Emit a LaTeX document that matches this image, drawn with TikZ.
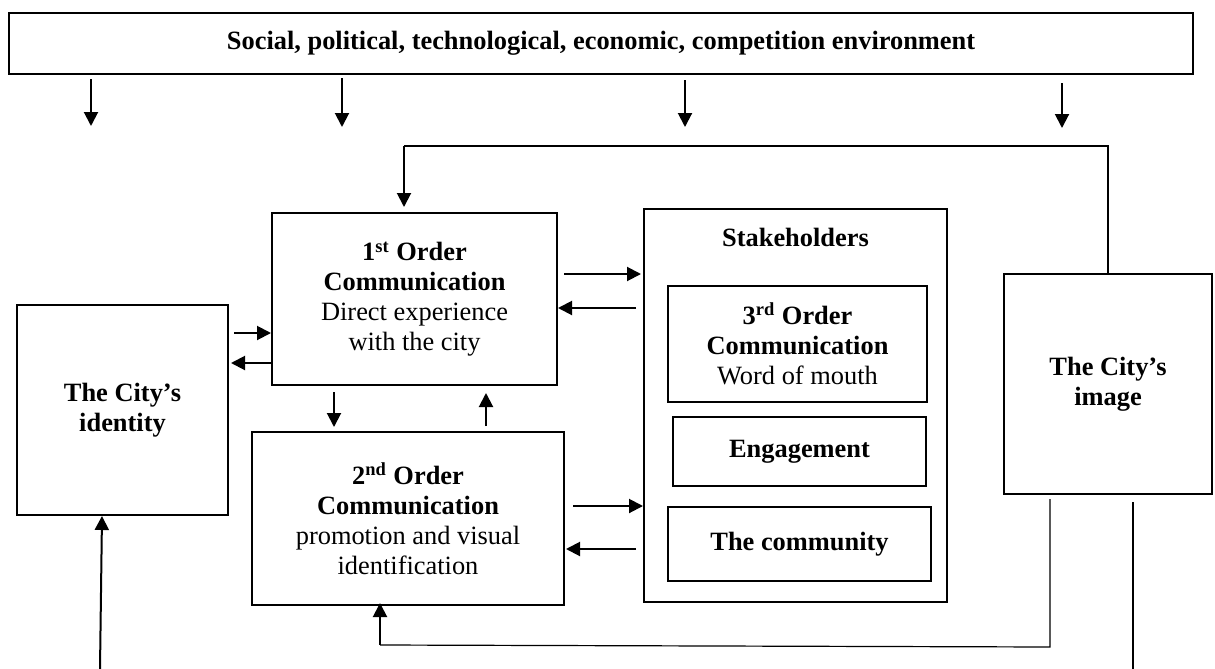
\documentclass[tikz,border=0pt]{standalone}
\usepackage{fontspec}
\setmainfont{Liberation Serif}
\usetikzlibrary{arrows.meta}
\begin{document}
\begin{tikzpicture}[x=0.5pt,y=-0.5pt,
  box/.style={draw, line width=1pt, inner sep=0pt, align=center,
    font=\fontsize{13.2}{15}\selectfont},
  lbl/.style={inner sep=0pt, align=center, font=\fontsize{13.2}{15}\selectfont},
  arr/.style={line width=1pt, -{Triangle[length=7pt,width=7pt]}},
  thin/.style={line width=0.6pt},
  thick/.style={line width=1pt}]
\useasboundingbox (0,0) rectangle (1215,669);

% environment banner
\node[box, minimum width=592pt, minimum height=30.5pt] (env) at (601,43.5)
  {\bfseries Social, political, technological, economic, competition environment};

% communication boxes
\node[box, minimum width=142.5pt, minimum height=86pt] (first) at (414.5,299)
  {\textbf{1\textsuperscript{st} Order}\\ \textbf{Communication}\\ Direct experience\\ with the city};
\node[box, minimum width=156pt, minimum height=86.5pt] (second) at (408,518.5)
  {\textbf{2\textsuperscript{nd} Order}\\ \textbf{Communication}\\ promotion and visual\\ identification};

% stakeholders and their inner boxes
\node[box, minimum width=151.5pt, minimum height=196.5pt] (stake) at (795.5,405.5) {};
\node[lbl] (stakelbl) at (795.5,237) {\bfseries Stakeholders};
\node[box, minimum width=129.5pt, minimum height=58pt] (third) at (797.5,344)
  {\textbf{3\textsuperscript{rd} Order}\\ \textbf{Communication}\\ Word of mouth};
\node[box, minimum width=126.5pt, minimum height=34.5pt] (engage) at (799.5,451.5)
  {\bfseries Engagement};
\node[box, minimum width=131.5pt, minimum height=37pt] (comm) at (799.5,544)
  {\bfseries The community};

% identity and image
\node[box, minimum width=105.5pt, minimum height=105pt] (identity) at (122.5,410)
  {\bfseries The City’s\\ \bfseries identity};
\node[box, minimum width=104pt, minimum height=110pt] (image) at (1108,384)
  {\bfseries The City’s\\ \bfseries image};

% arrows from the environment
\coordinate (e1s) at (91,79);   \coordinate (e1t) at (91,126);
\coordinate (e2s) at (342,78);  \coordinate (e2t) at (342,127);
\coordinate (e3s) at (685,80);  \coordinate (e3t) at (685,127);
\coordinate (e4s) at (1062,83); \coordinate (e4t) at (1062,128);
\draw[arr] (e1s) -- (e1t);
\draw[arr] (e2s) -- (e2t);
\draw[arr] (e3s) -- (e3t);
\draw[arr] (e4s) -- (e4t);

% feedback from the image to 1st order communication
\coordinate (fbA) at (1108,146);
\coordinate (fbB) at (404,146);
\draw[thin] (image.north) -- (fbA) -- (fbB);
\draw[arr] (fbB) -- ([yshift=2.5pt]first.north -| fbB);

% 1st order <-> stakeholders
\draw[arr] ([xshift=3pt]first.east |- 0,274) -- ([xshift=-1pt]stake.west |- 0,274);
\draw[arr] ([xshift=-3.5pt]stake.west |- 0,308) -- (first.east |- 0,308);

% identity <-> 1st order
\draw[arr] ([xshift=2.5pt]identity.east |- 0,333) -- (first.west |- 0,333);
\draw[arr] (first.west |- 0,363) -- ([xshift=1pt]identity.east |- 0,363);

% 1st order <-> 2nd order
\draw[arr] ([yshift=-3pt]first.south -| 334,0) -- ([yshift=2pt]second.north -| 334,0);
\draw[arr] ([yshift=2.5pt]second.north -| 486,0) -- ([yshift=-3.5pt]first.south -| 486,0);

% 2nd order <-> stakeholders
\draw[arr] ([xshift=4pt]second.east |- 0,506) -- (stake.west |- 0,506);
\draw[arr] ([xshift=-3.5pt]stake.west |- 0,549) -- ([xshift=0.5pt]second.east |- 0,549);

% feedback from the image to 2nd order communication
\coordinate (fbC) at (1050,647);
\coordinate (fbD) at (380,645);
\draw[thin] ([yshift=-2pt]image.south -| fbC) -- (fbC) -- (fbD);
\draw[arr] (fbD) -- ([yshift=1.5pt]second.south -| fbD);

% lines leaving the bottom edge
\coordinate (imgout) at (1133,669);
\draw[thin] ([yshift=-3.5pt]image.south -| imgout) -- (imgout);
\coordinate (idin) at (100,669);
\draw[arr] (idin) -- (identity.south -| 102,0);
\end{tikzpicture}
\end{document}
